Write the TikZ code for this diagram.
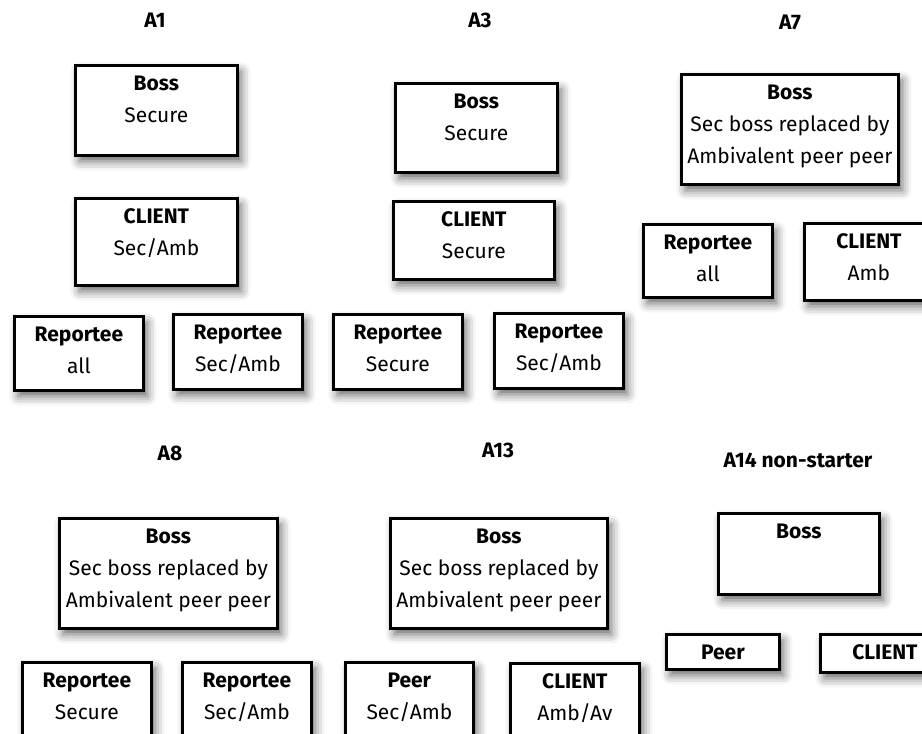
\documentclass[tikz,border=0pt]{standalone}
\usepackage{fontspec}
\setmainfont{Fira Sans}
\usepackage{tikz}
\usetikzlibrary{positioning,shadows.blur}

\tikzset{
  unit/.style={draw, line width=2.8pt, fill=white, anchor=north west,
    blur shadow={shadow xshift=4pt, shadow yshift=-6pt, shadow blur radius=9pt, shadow opacity=60}},
  unittext/.style={anchor=north, align=center, inner sep=0pt, yshift=-11.5pt,
    font=\fontsize{21}{32}\selectfont},
  grouptitle/.style={font=\fontsize{21}{24}\selectfont\bfseries}
}
\newcommand{\OrgBox}[6]{%
  \node[unit, minimum width=#4, minimum height=#5] (#1) at (#2,#3) {};
  \node[unittext] (#1-t) at (#1.north) {#6};
}

\begin{document}
\begin{tikzpicture}[x=1pt, y=-1pt]
	\useasboundingbox (0,0) rectangle (922,734);
	\clip (0,0) rectangle (922,734);
	\node[grouptitle] (t1) at (155,20) {A1};
	\node[grouptitle] (t3) at (480,20) {A3};
	\node[grouptitle] (t7) at (790,22) {A7};
	\node[grouptitle] (t8) at (170,453) {A8};
	\node[grouptitle] (t13) at (498,450) {A13};
	\node[grouptitle] (t14) at (798,460) {A14 non-starter};
	\OrgBox{a1boss}{74}{64}{162}{90}{\textbf{Boss}\\Secure}
	\OrgBox{a1client}{74}{197}{162}{87}{\textbf{CLIENT}\\Sec/Amb}
	\OrgBox{a1repa}{13}{315}{129}{74}{\textbf{Reportee}\\all}
	\OrgBox{a1repb}{172}{313}{129}{75}{\textbf{Reportee}\\Sec/Amb}
	\OrgBox{a3boss}{394}{82}{162}{89}{\textbf{Boss}\\Secure}
	\OrgBox{a3client}{392}{200}{161}{78}{\textbf{CLIENT}\\Secure}
	\OrgBox{a3repa}{332}{313}{129}{75}{\textbf{Reportee}\\Secure}
	\OrgBox{a3repb}{493}{312}{129}{75}{\textbf{Reportee}\\Sec/Amb}
	\OrgBox{a7boss}{680}{73}{217}{110}{\textbf{Boss}\\Sec boss replaced by\\Ambivalent peer peer}
	\OrgBox{a7rep}{642}{223}{129}{73}{\textbf{Reportee}\\all}
	\OrgBox{a7client}{803}{222}{129}{77}{\textbf{CLIENT}\\Amb}
	\OrgBox{a8boss}{58}{517}{218}{110}{\textbf{Boss}\\Sec boss replaced by\\Ambivalent peer peer}
	\OrgBox{a8repa}{21}{661}{129}{80}{\textbf{Reportee}\\Secure}
	\OrgBox{a8repb}{181}{661}{129}{80}{\textbf{Reportee}\\Sec/Amb}
	\OrgBox{a13boss}{389}{517}{217}{110}{\textbf{Boss}\\Sec boss replaced by\\Ambivalent peer peer}
	\OrgBox{a13peer}{344}{661}{128}{80}{\textbf{Peer}\\Sec/Amb}
	\OrgBox{a13client}{509}{662}{129}{80}{\textbf{CLIENT}\\Amb/Av}
	\OrgBox{a14boss}{717}{512}{161}{81}{\textbf{Boss}}
	\OrgBox{a14peer}{665}{633}{113}{35}{\textbf{Peer}}
	\OrgBox{a14client}{819}{633}{129}{38}{\textbf{CLIENT}}
\end{tikzpicture}
\end{document}
